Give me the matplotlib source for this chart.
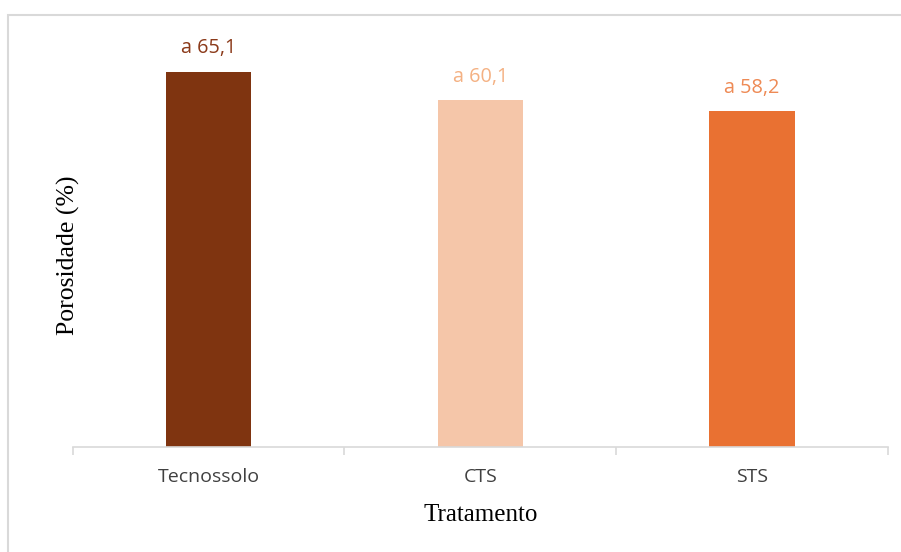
import matplotlib
matplotlib.use("Agg")
import matplotlib.pyplot as plt
from matplotlib.patches import Rectangle

categories = ["Tecnossolo", "CTS", "STS"]
values = [65.1, 60.1, 58.2]
letters = ["a", "a", "a"]
bar_colors = ["#7F3410", "#F5C6A9", "#E97132"]
label_colors = ["#8B3A1A", "#F4B183", "#EE8A55"]

W, H = 901, 552
fig = plt.figure(figsize=(W / 100, H / 100), dpi=100)

# outer frame
fig.patches.append(Rectangle((8 / W, -0.1), 1.2, 1 - 15 / H + 0.1, transform=fig.transFigure,
                             fill=False, edgecolor="#D9D9D9", linewidth=1.5))

left, right = 72.7 / W, 887.7 / W
bottom, top = 1 - 447 / H, 1 - 63 / H
ax = fig.add_axes([left, bottom, right - left, top - bottom])

x = list(range(len(categories)))
ax.bar(x, values, width=0.314, color=bar_colors)
ax.set_xlim(-0.5, len(categories) - 0.5)
ax.set_ylim(0, 66.6)

for xi, v, l, c in zip(x, values, letters, label_colors):
    ax.annotate(f"{l} {v:.1f}".replace(".", ","), (xi, v), xytext=(0, 10), textcoords="offset points",
                ha="center", va="bottom", fontsize=14.3, color=c, family="Open Sans",
                annotation_clip=False)

for s in ["top", "right", "left"]:
    ax.spines[s].set_visible(False)
ax.spines["bottom"].set_color("#D9D9D9")
ax.spines["bottom"].set_linewidth(1.2)
ax.set_yticks([])
ax.set_xticks(x)
ax.set_xticklabels(categories, fontsize=14, color="#404040", family="Open Sans")
ax.tick_params(axis="x", which="major", length=0, pad=15)
ax.set_xticks([i - 0.5 for i in range(len(categories) + 1)], minor=True)
ax.tick_params(axis="x", which="minor", length=6, color="#D9D9D9", width=1.2)

ax.set_xlabel("Tratamento", fontsize=18, family="Liberation Serif", labelpad=13, color="black")
ax.set_ylabel("Porosidade (%)", fontsize=18.5, family="Liberation Serif", color="black")
ax.yaxis.set_label_coords(0.009, 0.5)

fig.savefig("out.png", dpi=100)
